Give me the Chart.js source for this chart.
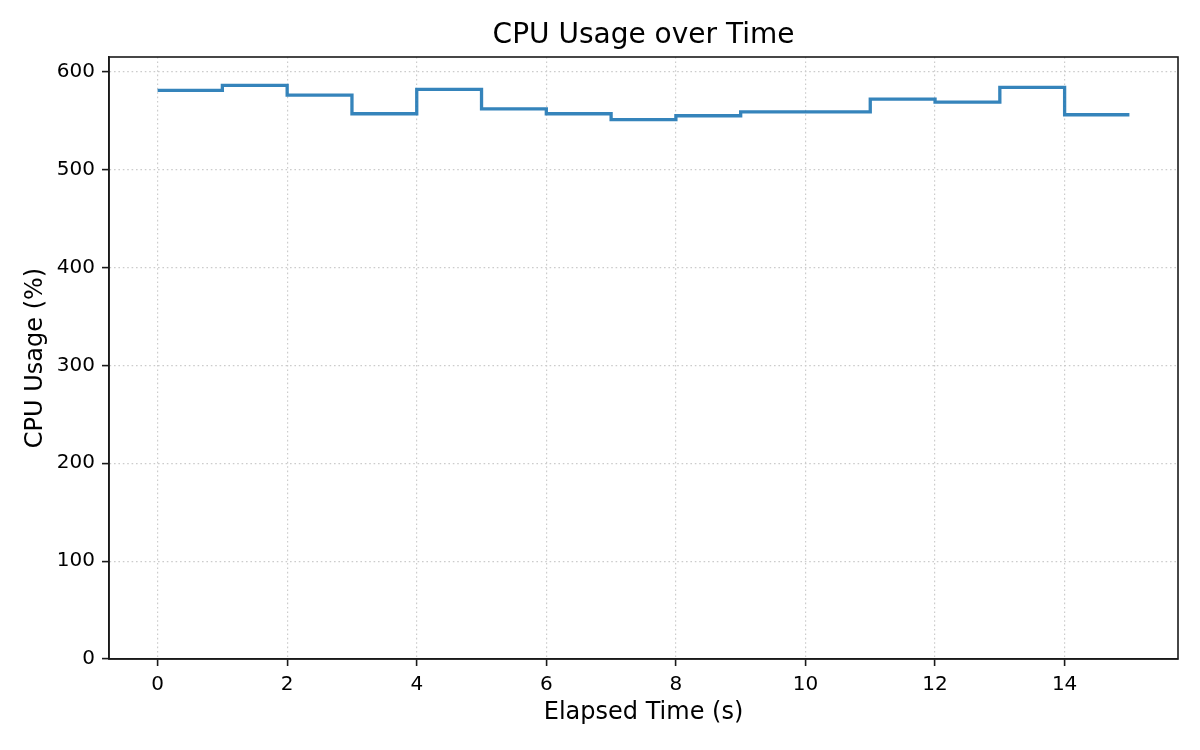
<!DOCTYPE html>
<html>
<head>
<meta charset="utf-8">
<script src="https://cdn.jsdelivr.net/npm/chart.js@4"></script>
<style>
  html, body { margin: 0; padding: 0; background: #fff; }
  #wrap { width: 1200px; height: 750px; }
</style>
</head>
<body>
<div id="wrap"><canvas id="cpuChart" width="1200" height="750"></canvas></div>
<script>
// elapsed seconds and cpu usage
const elapsed = [0, 1, 2, 3, 4, 5, 6, 7, 8, 9, 10, 11, 12, 13, 14, 15];
const cpuUsage = [581, 586, 576, 557, 582, 562, 557, 551, 555, 559, 559, 572, 569, 584, 556, 556];

const xTicks = [0, 2, 4, 6, 8, 10, 12, 14];
const yTicks = [0, 100, 200, 300, 400, 500, 600];

const chartTitle = 'CPU Usage over Time';

const FONT = "'DejaVu Sans', sans-serif";
Chart.defaults.font.family = FONT;
Chart.defaults.color = '#000';

// matplotlib style box round the plot area, title centred over the axes
const frameBox = {
    id: 'frameBox',
    afterDraw(chart) {
        const a = chart.chartArea;
        const ctx = chart.ctx;
        ctx.save();
        ctx.strokeStyle = '#1a1a1a';
        ctx.lineWidth = 1.6;
        ctx.strokeRect(a.left, a.top, a.right - a.left, a.bottom - a.top);

        ctx.fillStyle = '#000';
        ctx.font = `28px ${FONT}`;
        ctx.textAlign = 'center';
        ctx.textBaseline = 'middle';
        ctx.fillText(chartTitle, (a.left + a.right) / 2, 36);
        ctx.restore();
    }
};

const gridOpts = {
    color: '#cccccc',
    lineWidth: 1.2,
    tickColor: '#1a1a1a',
    tickLength: 7,
    tickWidth: 1.6,
    tickBorderDash: []
};
const borderOpts = { display: true, color: '#1a1a1a', width: 1.6, dash: [1.6, 2.8] };

const ctx = document.getElementById('cpuChart').getContext('2d');
new Chart(ctx, {
    type: 'line',
    data: {
        datasets: [{
            label: 'CPU Usage',
            data: elapsed.map((t, i) => ({ x: t, y: cpuUsage[i] })),
            borderColor: 'rgba(31, 119, 180, 0.9)',
            borderWidth: 3.3,
            stepped: 'before',
            pointRadius: 0,
            fill: false
        }]
    },
    options: {
        responsive: false,
        animation: false,
        layout: { padding: { left: 0, right: 22, top: 57, bottom: 0 } },
        plugins: {
            legend: { display: false },
            tooltip: { enabled: false },
            title: { display: false }
        },
        scales: {
            x: {
                type: 'linear',
                min: -0.75,
                max: 15.75,
                afterBuildTicks: (scale) => { scale.ticks = xTicks.map(v => ({ value: v })); },
                afterFit: (scale) => { scale.height = 91; },
                ticks: { font: { size: 20 }, color: '#000', padding: 7, maxRotation: 0 },
                grid: gridOpts,
                border: borderOpts,
                title: {
                    display: true,
                    text: 'Elapsed Time (s)',
                    color: '#000',
                    font: { size: 24 },
                    padding: { top: 0, bottom: 23 }
                }
            },
            y: {
                type: 'linear',
                min: 0,
                max: 615,
                afterBuildTicks: (scale) => { scale.ticks = yTicks.map(v => ({ value: v })); },
                afterFit: (scale) => { scale.width = 109; },
                ticks: { font: { size: 20 }, color: '#000', padding: 7 },
                grid: gridOpts,
                border: borderOpts,
                title: {
                    display: true,
                    text: 'CPU Usage (%)',
                    color: '#000',
                    font: { size: 24 },
                    padding: { top: 21, bottom: 0 }
                }
            }
        }
    },
    plugins: [frameBox]
});
</script>
</body>
</html>
